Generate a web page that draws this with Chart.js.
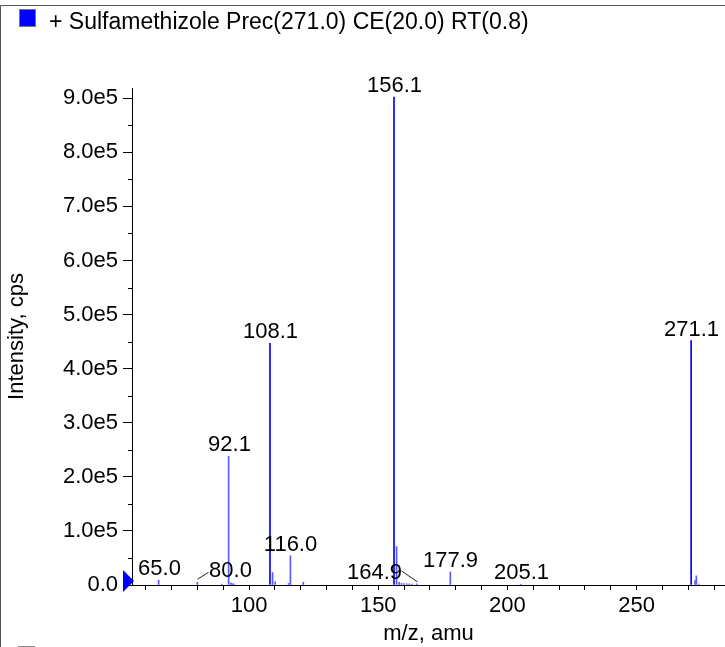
<!DOCTYPE html>
<html>
<head>
<meta charset="utf-8">
<title>Sulfamethizole product ion spectrum</title>
<script src="https://cdn.jsdelivr.net/npm/chart.js@4.4.1/dist/chart.umd.min.js"></script>
<style>
  body { margin: 0; background: #fff; }
  canvas { display: block; }
</style>
</head>
<body>
<canvas id="myChart" width="725" height="647"></canvas>
<script>
const seriesName = "+ Sulfamethizole Prec(271.0) CE(20.0) RT(0.8)";

// peak list: m/z and intensity (cps)
const mzValues = [65.0, 80.0, 89.4, 92.1, 93.0, 93.6, 94.2, 108.1, 109.1, 110.1, 115.3, 116.0, 121.0,
    156.1, 157.1, 158.1, 159.0, 160.0, 161.1, 162.0, 163.1, 164.9, 177.9, 205.1, 271.1, 272.6, 273.1, 274.1];
const intensities = [9000, 5000, 1500, 238000, 4000, 2500, 1500, 447000, 23000, 6000, 3000, 54000, 5000,
    902000, 71000, 5000, 3000, 2500, 2000, 2000, 1500, 2000, 24000, 1500, 452000, 8000, 17000, 1500];

const peakLabels = ["65.0", "80.0", "92.1", "108.1", "116.0", "156.1", "164.9", "177.9", "205.1", "271.1"];

const xTickValues = [100, 150, 200, 250];
const xTickLabels = ["100", "150", "200", "250"];
const yTickLabels = ["0.0", "1.0e5", "2.0e5", "3.0e5", "4.0e5", "5.0e5", "6.0e5", "7.0e5", "8.0e5", "9.0e5"];

const fontFamily = "'Liberation Sans', Arial, Helvetica, sans-serif";
Chart.defaults.font.family = fontFamily;
Chart.defaults.font.size = 22;
Chart.defaults.color = "#000";

// labels that sit beside their peak with a short leader line
const leaderLabels = {
    "80.0": { dx: 33, line: [[0, -3], [11, -10]] },
    "164.9": { dx: -43, line: [[-16, -13], [0, -2]] }
};

const peakLabelPlugin = {
    id: "peakLabels",
    afterDatasetsDraw(chart) {
        const ctx = chart.ctx;
        const x = chart.scales.x;
        const y = chart.scales.y;
        ctx.save();
        ctx.font = "22px " + fontFamily;
        ctx.fillStyle = "#000";
        ctx.textAlign = "center";
        ctx.textBaseline = "alphabetic";
        peakLabels.forEach((lbl) => {
            const i = mzValues.indexOf(parseFloat(lbl));
            if (i < 0) return;
            const px = Math.round(x.getPixelForValue(mzValues[i])) + 0.5;
            const py = y.getPixelForValue(intensities[i]);
            const lead = leaderLabels[lbl];
            if (lead) {
                ctx.fillText(lbl, px + lead.dx, py - 5);
                ctx.strokeStyle = "#222";
                ctx.lineWidth = 1;
                ctx.beginPath();
                ctx.moveTo(px + lead.line[0][0], py + lead.line[0][1]);
                ctx.lineTo(px + lead.line[1][0], py + lead.line[1][1]);
                ctx.stroke();
            } else {
                ctx.fillText(lbl, px, py - 5);
            }
        });
        ctx.restore();
    }
};

const framePlugin = {
    id: "frame",
    beforeDraw(chart) {
        const ctx = chart.ctx;
        ctx.save();
        ctx.fillStyle = "#fff";
        ctx.fillRect(0, 0, chart.width, chart.height);
        ctx.restore();
    },
    afterDraw(chart) {
        const ctx = chart.ctx;
        const x = chart.scales.x;
        const y = chart.scales.y;
        ctx.save();
        // panel border
        ctx.strokeStyle = "#555";
        ctx.lineWidth = 1;
        ctx.beginPath();
        ctx.moveTo(0.5, chart.height);
        ctx.lineTo(0.5, 5.5);
        ctx.lineTo(chart.width, 5.5);
        ctx.stroke();
        ctx.beginPath();
        ctx.moveTo(18, 646.5);
        ctx.lineTo(35, 646.5);
        ctx.strokeStyle = "#888";
        ctx.stroke();

        // legend entry
        ctx.fillStyle = "#0000ff";
        ctx.fillRect(19, 9, 16, 17);
        ctx.strokeStyle = "#777";
        ctx.strokeRect(19.5, 9.5, 16, 17);
        ctx.fillStyle = "#000";
        ctx.font = "23px " + fontFamily;
        ctx.textBaseline = "alphabetic";
        ctx.fillText(seriesName, 49, 29);

        // minor ticks on the intensity axis (shorter than the major ones)
        ctx.strokeStyle = "#000";
        ctx.beginPath();
        y.ticks.forEach((t) => {
            if (Math.round(t.value / 50000) % 2 === 1) {
                const py = Math.round(y.getPixelForValue(t.value)) + 0.5;
                ctx.moveTo(x.left - 4, py);
                ctx.lineTo(x.left, py);
            }
        });
        ctx.stroke();

        // blue baseline marker
        const y0 = y.getPixelForValue(0);
        ctx.fillStyle = "#0000ff";
        ctx.beginPath();
        ctx.moveTo(x.left - 9, y0 - 15);
        ctx.lineTo(x.left - 9, y0 + 7);
        ctx.lineTo(x.left + 2, y0 - 4);
        ctx.closePath();
        ctx.fill();
        ctx.restore();
    }
};

const ctx = document.getElementById("myChart").getContext("2d");
const myChart = new Chart(ctx, {
    type: "bar",
    data: {
        datasets: [{
            label: seriesName,
            data: mzValues.map((m, i) => ({ x: m, y: intensities[i] })),
            backgroundColor: (c) => (c.raw && c.raw.y >= 300000 ? "#0000ff" : "#5a5aff"),
            borderWidth: 0,
            barThickness: 1,
        }],
    },
    options: {
        responsive: false,
        animation: false,
        layout: { padding: { top: 88, left: 0, right: 0, bottom: 0 } },
        plugins: {
            legend: { display: false },
            tooltip: { enabled: false },
        },
        scales: {
            x: {
                type: "linear",
                min: 54.7,
                max: 284.2,
                offset: false,
                afterBuildTicks: (s) => {
                    const t = [];
                    for (let v = 60; v <= 280; v += 10) t.push({ value: v });
                    s.ticks = t;
                },
                afterFit: (s) => { s.height = 62; },
                grid: { drawOnChartArea: false, offset: false, tickLength: 5, color: "#000" },
                border: { display: true, color: "#000", width: 1 },
                ticks: {
                    autoSkip: false,
                    maxRotation: 0,
                    minRotation: 0,
                    padding: 3,
                    callback: (v) => {
                        const k = xTickValues.indexOf(Math.round(v));
                        return k < 0 ? "" : xTickLabels[k];
                    },
                },
                title: { display: true, text: "m/z, amu", padding: { top: 0, bottom: 0 } },
            },
            y: {
                min: 0,
                max: 919000,
                afterBuildTicks: (s) => {
                    const t = [];
                    for (let v = 0; v <= 900000; v += 50000) t.push({ value: v });
                    s.ticks = t;
                },
                afterFit: (s) => { s.width = 132; },
                grid: {
                    drawOnChartArea: false,
                    tickLength: 9,
                    tickColor: (c) => (c.tick && Math.round(c.tick.value / 50000) % 2 === 0 ? "#000" : "rgba(0,0,0,0)"),
                },
                border: { display: true, color: "#000", width: 1 },
                ticks: {
                    autoSkip: false,
                    padding: 5,
                    callback: (v) => {
                        const k = Math.round(v / 50000);
                        return k % 2 === 0 ? yTickLabels[k / 2] : "";
                    },
                },
                title: { display: true, text: "Intensity, cps", padding: { top: 4, bottom: 4 } },
            },
        },
    },
    plugins: [framePlugin, peakLabelPlugin],
});
</script>
</body>
</html>
